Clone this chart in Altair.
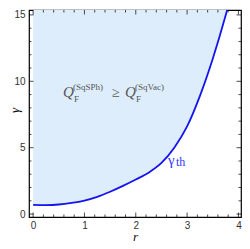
import altair as alt
import pandas as pd

# ---- data ----
r_vals = [0.0, 0.25, 0.5, 0.75, 1.0, 1.25, 1.5, 1.75, 2.0, 2.25, 2.5, 2.75, 3.0, 3.25, 3.5, 3.75, 3.78]
gamma_vals = [0.70, 0.68, 0.72, 0.84, 1.02, 1.30, 1.68, 2.12, 2.60, 3.12, 3.85, 5.00, 6.60, 8.90, 11.70, 14.95, 15.37]

x_major = [0, 1, 2, 3, 4]
x_minor = [0.2, 0.4, 0.6, 0.8, 1.2, 1.4, 1.6, 1.8, 2.2, 2.4, 2.6, 2.8, 3.2, 3.4, 3.6, 3.8]
y_major = [0, 5, 10, 15]
y_minor = [1, 2, 3, 4, 6, 7, 8, 9, 11, 12, 13, 14]

x_title = "r"
y_title = "γ"
region_label = ["Q", "F", "(SqSPh)", "≥", "Q", "F", "(SqVac)"]
curve_label = ["γ", "th"]

W, H = 212, 207
FILL = "#ddedfc"
LINE = "#1414f0"
TEXTGRAY = "#555555"
Y_TOP = 15.37

df = pd.DataFrame({"r": r_vals, "g": gamma_vals})

xs = alt.Scale(domain=[-0.08, 4.05], nice=False, zero=False)
ys = alt.Scale(domain=[-0.22, Y_TOP], nice=False, zero=False)

x_axis = alt.Axis(values=x_major, title=x_title, ticks=False, domain=False, grid=False,
                  labelPadding=3, titlePadding=0, titleFont="Liberation Serif",
                  titleFontStyle="italic", titleFontWeight="normal", titleFontSize=13,
                  labelFont="Liberation Sans", labelFontSize=10, labelColor="#333333",
                  titleColor="#111111")
y_axis = alt.Axis(values=y_major, title=y_title, ticks=False, domain=False, grid=False,
                  labelPadding=4, titleFont="Liberation Serif",
                  titleFontStyle="italic", titleFontWeight="normal", titleFontSize=13,
                  titleX=-15, titleY=100, titleAngle=270, titleAlign="center",
                  titleBaseline="middle",
                  labelFont="Liberation Sans", labelFontSize=10, labelColor="#333333",
                  titleColor="#111111")


def X(field):
    return alt.X(field, type="quantitative", scale=xs, axis=x_axis)


def Y(field):
    return alt.Y(field, type="quantitative", scale=ys, axis=y_axis)


area = alt.Chart(df).mark_area(color=FILL, interpolate="monotone").encode(
    x=X("r"), y=Y("g"), y2=alt.datum(Y_TOP))
line = alt.Chart(df).mark_line(color=LINE, strokeWidth=1.8, interpolate="monotone").encode(
    x=X("r"), y=Y("g"))

layers = [area, line]


def xticks(vals, y0, size):
    d = pd.DataFrame({"v": vals})
    return alt.Chart(d).mark_tick(color="#000000", thickness=1, size=size, orient="vertical",
                                  clip=True).encode(x=X("v"), y=alt.value(y0))


def yticks(vals, x0, size):
    d = pd.DataFrame({"v": vals})
    return alt.Chart(d).mark_tick(color="#000000", thickness=1, size=size, orient="horizontal",
                                  clip=True).encode(y=Y("v"), x=alt.value(x0))


layers += [
    xticks(x_major, H, 9), xticks(x_minor, H, 5),
    xticks(x_major, 0, 9), xticks(x_minor, 0, 5),
    yticks(y_major, 0, 9), yticks(y_minor, 0, 5),
    yticks(y_major, W, 9), yticks(y_minor, W, 5),
]


def txt(s, px, py, size, color, italic=False):
    return alt.Chart(pd.DataFrame({"t": [s]})).mark_text(
        align="left", baseline="alphabetic", font="Liberation Serif", fontSize=size,
        fontStyle="italic" if italic else "normal", color=color).encode(
        x=alt.value(px), y=alt.value(py), text="t:N")


layers += [
    txt(region_label[0], 34, 87, 15, TEXTGRAY, True),
    txt(region_label[1], 45, 92, 9, TEXTGRAY),
    txt(region_label[2], 44, 80, 9, TEXTGRAY),
    txt(region_label[3], 83, 87, 14, TEXTGRAY),
    txt(region_label[4], 96, 87, 15, TEXTGRAY, True),
    txt(region_label[5], 107, 92, 9, TEXTGRAY),
    txt(region_label[6], 106, 80, 9, TEXTGRAY),
    txt(curve_label[0], 139, 155, 15, "#3535ff"),
    txt(curve_label[1], 147, 156, 12, "#3535ff"),
]

chart = alt.layer(*layers).properties(
    width=W, height=H,
    autosize=alt.AutoSizeParams(type="none"),
    padding={"left": 21, "top": 2, "right": 1, "bottom": 24},
).configure_view(stroke="#000000", strokeWidth=1.2)

chart.save("out.html", embed_options={"renderer": "svg", "actions": False})
